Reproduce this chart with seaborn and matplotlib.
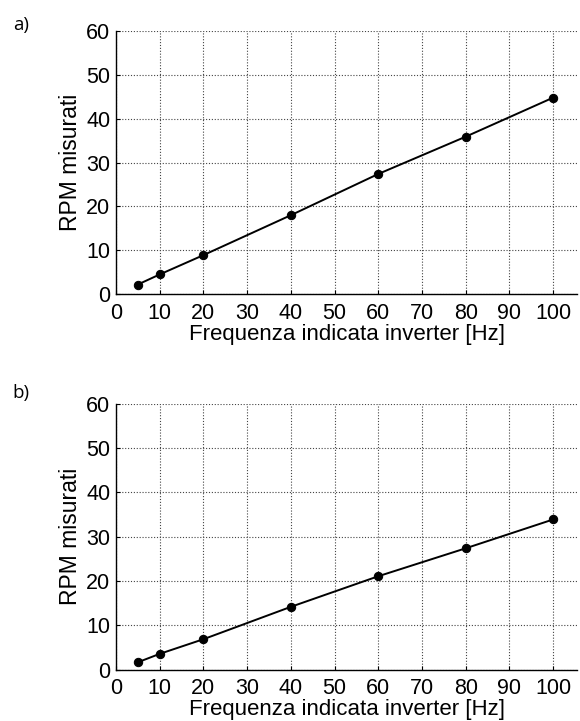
import matplotlib
matplotlib.use("Agg")
import matplotlib.pyplot as plt
import seaborn as sns
import pandas as pd

# Inverter frequency settings [Hz]
freq_hz = [5, 10, 20, 40, 60, 80, 100]
# Measured RPM, configuration a)
rpm_a = [2.2, 4.5, 8.9, 18.0, 27.4, 35.9, 44.8]
# Measured RPM, configuration b)
rpm_b = [1.7, 3.6, 6.9, 14.2, 21.1, 27.4, 33.9]

panel_labels = ["a)", "b)"]
x_ticks = [0, 10, 20, 30, 40, 50, 60, 70, 80, 90, 100]
y_ticks = [0, 10, 20, 30, 40, 50, 60]
x_label = "Frequenza indicata inverter [Hz]"
y_label = "RPM misurati"

sns.set_theme(style="white")
plt.rcParams["font.family"] = ["Liberation Sans", "DejaVu Sans"]

fig = plt.figure(figsize=(5.8, 7.21), dpi=100)
ax_a = fig.add_axes([0.2, 0.592, 0.795, 0.365])
ax_b = fig.add_axes([0.2, 0.071, 0.795, 0.369])

for ax, rpm in zip([ax_a, ax_b], [rpm_a, rpm_b]):
    df = pd.DataFrame({"freq": freq_hz, "rpm": rpm})
    sns.lineplot(data=df, x="freq", y="rpm", ax=ax, color="black",
                 linewidth=1.4, marker="o", markersize=6,
                 markeredgecolor="black", markerfacecolor="black")
    ax.set_xlim(0, 105.5)
    ax.set_ylim(0, 60)
    ax.set_xticks(x_ticks)
    ax.set_yticks(y_ticks)
    ax.grid(True, linestyle=(0, (1, 1.6)), color="#444444", linewidth=0.8)
    ax.set_axisbelow(True)
    for side in ["top", "right"]:
        ax.spines[side].set_visible(False)
    for side in ["left", "bottom"]:
        ax.spines[side].set_color("black")
        ax.spines[side].set_linewidth(1.0)
    ax.tick_params(axis="both", direction="in", length=3, width=0.8,
                   colors="black", labelsize=15.5,
                   bottom=True, left=True)
    ax.tick_params(axis="x", pad=6)
    ax.tick_params(axis="y", pad=4)
    ax.set_xlabel(x_label, fontsize=16, labelpad=0, color="black")
    ax.set_ylabel(y_label, fontsize=16.5, labelpad=3, color="black")

fig.text(0.022, 0.966, panel_labels[0], fontsize=13.5, color="black",
         family=["Open Sans", "DejaVu Sans"], va="center")
fig.text(0.022, 0.455, panel_labels[1], fontsize=13.5, color="black",
         family=["Open Sans", "DejaVu Sans"], va="center")

fig.savefig("out.png", dpi=100, facecolor="white")
